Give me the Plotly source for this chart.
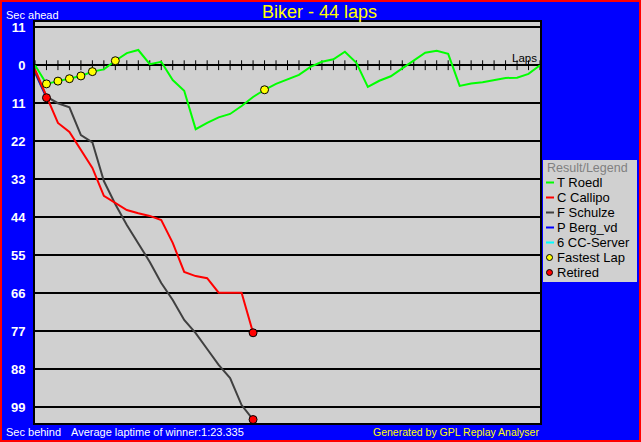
import plotly.graph_objects as go

# ---------------- data ----------------
laps_all = list(range(0, 45))
roedl = [0, -5.4, -4.6, -3.9, -3.1, -1.85, -1.2, 1.3, 3.5, 4.4, 0.3, 1.0, -4.3, -7.4,
         -18.5, -16.7, -15.1, -14.1, -11.8, -9.2, -7.1, -5.4, -4.0, -2.8, -0.5, 1.0,
         1.7, 3.9, 0.7, -6.3, -4.5, -3.2, -0.9, 1.3, 3.6, 4.2, 3.3, -6.0, -5.3, -4.9,
         -4.3, -3.7, -3.6, -2.5, 0]
callipo = [-1.2, -9.2, -16.7, -19.3, -24.5, -29.7, -37.8, -39.9, -41.9, -42.8, -43.6,
           -44.8, -51.4, -59.8, -61.0, -61.6, -65.8, -65.8, -65.8, -77.4]
schulze = [-1.8, -9.1, -11.0, -12.2, -20.2, -22.3, -33.5, -40.2, -46.2, -51.4, -56.9,
           -63.0, -67.9, -73.7, -77.5, -82.1, -86.7, -90.5, -98.3, -102.5]
berg = [-2.1, -9.4]
fastest_laps = [1, 2, 3, 4, 5, 7, 20]
retired_laps = [1, 19, 19]
retired_secs = [berg[-1], callipo[-1], schulze[-1]]
ytick_vals = [11, 0, -11, -22, -33, -44, -55, -66, -77, -88, -99]
ytick_text = ["11", "0", "11", "22", "33", "44", "55", "66", "77", "88", "99"]
legend_names = ["T Roedl", "C Callipo", "F Schulze", "P Berg_vd", "6 CC-Server",
                "Fastest Lap", "Retired"]
legend_colors = ["#00FF00", "#FF0000", "#404040", "#0000FF", "#00FFFF", "#FFFF00", "#FF0000"]

W, H = 641, 442
ML, MR, MT, MB = 35, 101, 22, 19
PW, PH = W - ML - MR, H - MT - MB


def px(x):
    return (x - ML) / PW


def py(y):
    return (H - MB - y) / PH


fig = go.Figure()

# lap tick marks on zero line
fig.add_trace(go.Scatter(x=laps_all, y=[0] * len(laps_all), mode="markers",
                         marker=dict(symbol="line-ns", size=7,
                                     line=dict(color="black", width=1)),
                         hoverinfo="skip", showlegend=False))

fig.add_trace(go.Scatter(x=list(range(len(berg))), y=berg, mode="lines",
                         line=dict(color="#0000FF", width=2), showlegend=False))
fig.add_trace(go.Scatter(x=list(range(len(schulze))), y=schulze, mode="lines",
                         line=dict(color="#404040", width=2), showlegend=False))
fig.add_trace(go.Scatter(x=list(range(len(callipo))), y=callipo, mode="lines",
                         line=dict(color="#FF0000", width=2), showlegend=False))
fig.add_trace(go.Scatter(x=laps_all, y=roedl, mode="lines",
                         line=dict(color="#00FF00", width=2), showlegend=False))
fig.add_trace(go.Scatter(x=[None], y=[None], mode="lines",
                         line=dict(color="#00FFFF", width=2), showlegend=False))

fig.add_trace(go.Scatter(x=fastest_laps, y=[roedl[i] for i in fastest_laps], mode="markers",
                         marker=dict(symbol="circle", size=8, color="#FFFF00",
                                     line=dict(color="black", width=1)),
                         showlegend=False))
fig.add_trace(go.Scatter(x=retired_laps, y=retired_secs, mode="markers",
                         marker=dict(symbol="circle", size=8, color="#FF0000",
                                     line=dict(color="black", width=1)),
                         showlegend=False))

shapes = []
annotations = []

# red outer border
shapes.append(dict(type="rect", xref="paper", yref="paper",
                   x0=px(0), x1=px(W), y0=py(H), y1=py(0),
                   line=dict(color="#FF0000", width=4), fillcolor="rgba(0,0,0,0)"))

# legend box
LX0, LX1, LY0, LY1 = 543, 637, 160, 282
shapes.append(dict(type="rect", xref="paper", yref="paper",
                   x0=px(LX0), x1=px(LX1), y0=py(LY1), y1=py(LY0),
                   line=dict(width=0), fillcolor="#D0D0D0"))
annotations.append(dict(xref="paper", yref="paper", x=px(545), y=py(167.5),
                        text="Result/Legend", showarrow=False, xanchor="left",
                        yanchor="middle", font=dict(family="Liberation Sans", size=12.5,
                                                    color="#808080")))
for i, (name, col) in enumerate(zip(legend_names, legend_colors)):
    yy = 182.5 + 15 * i
    if i < 5:
        shapes.append(dict(type="line", xref="paper", yref="paper",
                           x0=px(546), x1=px(554), y0=py(yy), y1=py(yy),
                           line=dict(color=col, width=2)))
    else:
        shapes.append(dict(type="circle", xref="paper", yref="paper",
                           x0=px(546.5), x1=px(552.5), y0=py(yy + 3), y1=py(yy - 3),
                           line=dict(color="black", width=1), fillcolor=col))
    annotations.append(dict(xref="paper", yref="paper", x=px(555), y=py(yy),
                            text=name, showarrow=False, xanchor="left", yanchor="middle",
                            font=dict(family="Liberation Sans", size=13, color="black")))

# texts
annotations += [
    dict(xref="paper", yref="paper", x=px(319.5), y=py(12.5), text="Biker - 44 laps",
         showarrow=False, xanchor="center", yanchor="middle",
         font=dict(family="Liberation Sans", size=18, color="#FFFF00")),
    dict(xref="paper", yref="paper", x=px(4), y=py(14.5), text="Sec ahead",
         showarrow=False, xanchor="left", yanchor="middle",
         font=dict(family="Liberation Sans", size=11, color="white")),
    dict(xref="paper", yref="paper", x=px(4), y=py(432), text="Sec behind",
         showarrow=False, xanchor="left", yanchor="middle",
         font=dict(family="Liberation Sans", size=11, color="white")),
    dict(xref="paper", yref="paper", x=px(69), y=py(432),
         text="Average laptime of winner:1:23.335",
         showarrow=False, xanchor="left", yanchor="middle",
         font=dict(family="Liberation Sans", size=11, color="white")),
    dict(xref="paper", yref="paper", x=px(541), y=py(432),
         text="Generated by GPL Replay Analyser",
         showarrow=False, xanchor="right", yanchor="middle",
         font=dict(family="Liberation Sans", size=10.5, color="#FFFF00")),
    dict(xref="paper", yref="paper", x=px(539), y=py(58), text="Laps",
         showarrow=False, xanchor="right", yanchor="middle",
         font=dict(family="Liberation Sans", size=11.5, color="black")),
]

fig.update_layout(
    width=W, height=H,
    margin=dict(l=ML, r=MR, t=MT, b=MB, pad=0),
    paper_bgcolor="#0000FF",
    plot_bgcolor="#D0D0D0",
    showlegend=False,
    hovermode=False,
    shapes=shapes,
    annotations=annotations,
    xaxis=dict(range=[0, 44], showgrid=False, zeroline=False, showticklabels=False,
               ticks="", showline=True, mirror=True, linecolor="black", linewidth=2,
               fixedrange=True),
    yaxis=dict(range=[-103.5, 12.5], tickvals=ytick_vals, ticktext=ytick_text,
               showgrid=True, gridcolor="black", gridwidth=1.5, zeroline=False,
               showline=True, mirror=True, linecolor="black", linewidth=2,
               ticks="", ticklabelstandoff=5,
               tickfont=dict(family="Liberation Sans", size=13, color="white",
                             weight="bold"),
               fixedrange=True),
)

fig.write_html("out.html", config={"displayModeBar": False},
               post_script="document.body.style.margin='0';"
                           "document.body.style.overflow='hidden';")
